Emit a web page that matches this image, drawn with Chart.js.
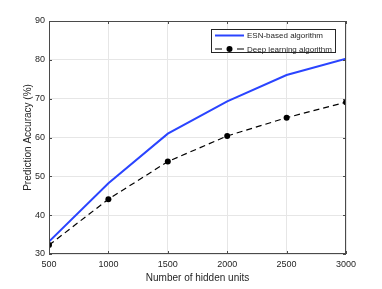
<!DOCTYPE html>
<html>
<head>
<meta charset="utf-8">
<script src="https://cdn.jsdelivr.net/npm/chart.js@4"></script>
<style>
  html, body { margin: 0; padding: 0; background: #fff; }
  #wrap { width: 382px; height: 289px; }
</style>
</head>
<body>
<div id="wrap"><canvas id="accChart" width="382" height="289"></canvas></div>
<script>
// Data
const hiddenUnits = [500, 1000, 1500, 2000, 2500, 3000];
const esnAccuracy = [33.2, 48.2, 61.0, 69.3, 76.1, 80.3];
const deepAccuracy = [32.3, 44.1, 53.8, 60.4, 65.1, 69.1];
const seriesLabels = ['ESN-based algorithm', 'Deep learning algorithm'];
const xTicks = [500, 1000, 1500, 2000, 2500, 3000];
const yTicks = [30, 40, 50, 60, 70, 80, 90];

const textColor = '#262626';
const axisColor = '#4a4a4a';
const gridColor = '#e6e6e6';
const fontFamily = '"Liberation Sans", Arial, Helvetica, sans-serif';

// Box around the plot + inward tick marks (MATLAB style)
const boxPlugin = {
    id: 'boxPlugin',
    afterDatasetsDraw(chart) {
        const { ctx, chartArea: a, scales } = chart;
        ctx.save();
        ctx.strokeStyle = axisColor;
        ctx.lineWidth = 1;
        ctx.strokeRect(a.left + 0.5, a.top + 0.5, a.right - a.left - 1, a.bottom - a.top - 1);
        ctx.beginPath();
        xTicks.forEach(v => {
            const x = Math.round(scales.x.getPixelForValue(v)) + 0.5;
            ctx.moveTo(x, a.bottom); ctx.lineTo(x, a.bottom - 3);
            ctx.moveTo(x, a.top); ctx.lineTo(x, a.top + 3);
        });
        yTicks.forEach(v => {
            const y = Math.round(scales.y.getPixelForValue(v)) + 0.5;
            ctx.moveTo(a.left, y); ctx.lineTo(a.left + 3, y);
            ctx.moveTo(a.right, y); ctx.lineTo(a.right - 3, y);
        });
        ctx.stroke();
        ctx.restore();
    }
};

// Legend inside the top right corner
const insideLegend = {
    id: 'insideLegend',
    afterDraw(chart) {
        const { ctx, chartArea: a } = chart;
        const ds = chart.data.datasets;
        ctx.save();
        ctx.font = '8px ' + fontFamily;
        const sample = 29, gap = 3, padX = 4;
        const textW = Math.max(...ds.map(d => ctx.measureText(d.label).width));
        const w = padX + sample + gap + textW + 4;
        const h = 24;
        const right = a.right - 10;
        const left = Math.round(right - w);
        const top = Math.round(a.top + 8);
        ctx.fillStyle = '#fff';
        ctx.fillRect(left, top, right - left, h);
        ctx.strokeStyle = textColor;
        ctx.lineWidth = 1;
        ctx.strokeRect(left + 0.5, top + 0.5, right - left - 1, h - 1);

        ds.forEach((d, i) => {
            const y = top + 6.5 + i * 13.5;
            const x0 = left + padX;
            ctx.beginPath();
            ctx.strokeStyle = d.borderColor;
            ctx.lineWidth = d.borderWidth;
            ctx.setLineDash(d.borderDash && d.borderDash.length ? [7, 15] : []);
            ctx.moveTo(x0, y); ctx.lineTo(x0 + sample, y);
            ctx.stroke();
            ctx.setLineDash([]);
            if (d.pointRadius > 0) {
                ctx.beginPath();
                ctx.fillStyle = d.pointBackgroundColor;
                ctx.arc(x0 + sample / 2, y, d.pointRadius, 0, Math.PI * 2);
                ctx.fill();
            }
            ctx.fillStyle = textColor;
            ctx.textBaseline = 'middle';
            ctx.textAlign = 'left';
            ctx.fillText(d.label, x0 + sample + gap, y + 0.5);
        });
        ctx.restore();
    }
};

const ctx = document.getElementById('accChart').getContext('2d');
Chart.defaults.font.family = fontFamily;
Chart.defaults.color = textColor;

const chart = new Chart(ctx, {
    type: 'line',
    data: {
        datasets: [
            {
                label: seriesLabels[0],
                data: hiddenUnits.map((x, i) => ({ x: x, y: esnAccuracy[i] })),
                borderColor: '#2a44ff',
                borderWidth: 2,
                pointRadius: 0,
                pointBackgroundColor: '#2a44ff',
                tension: 0,
                fill: false
            },
            {
                label: seriesLabels[1],
                data: hiddenUnits.map((x, i) => ({ x: x, y: deepAccuracy[i] })),
                borderColor: '#000',
                borderWidth: 1.2,
                borderDash: [6, 4],
                pointRadius: 3,
                pointBackgroundColor: '#000',
                pointBorderWidth: 0,
                tension: 0,
                fill: false
            }
        ]
    },
    options: {
        responsive: false,
        animation: false,
        layout: { padding: { left: 0, right: 36, top: 21, bottom: 0 } },
        plugins: {
            legend: { display: false },
            tooltip: { enabled: false }
        },
        scales: {
            x: {
                type: 'linear',
                min: 500,
                max: 3000,
                afterBuildTicks: scale => { scale.ticks = xTicks.map(v => ({ value: v })); },
                afterFit: scale => { scale.height = 35; },
                ticks: { font: { size: 9 }, color: textColor, padding: 5, callback: v => String(v) },
                grid: { color: gridColor, drawTicks: false },
                border: { display: false },
                title: {
                    display: true,
                    text: 'Number of hidden units',
                    font: { size: 10 },
                    color: textColor,
                    padding: { top: 0, bottom: 5 }
                }
            },
            y: {
                type: 'linear',
                min: 30,
                max: 90,
                afterBuildTicks: scale => { scale.ticks = yTicks.map(v => ({ value: v })); },
                afterFit: scale => { scale.width = 49; },
                ticks: { font: { size: 9 }, color: textColor, padding: 4, callback: v => String(v) },
                grid: { color: gridColor, drawTicks: false },
                border: { display: false },
                title: {
                    display: true,
                    text: 'Prediction Accuracy (%)',
                    font: { size: 10 },
                    color: textColor,
                    padding: { top: 22, bottom: 0 }
                }
            }
        }
    },
    plugins: [boxPlugin, insideLegend]
});
</script>
</body>
</html>
